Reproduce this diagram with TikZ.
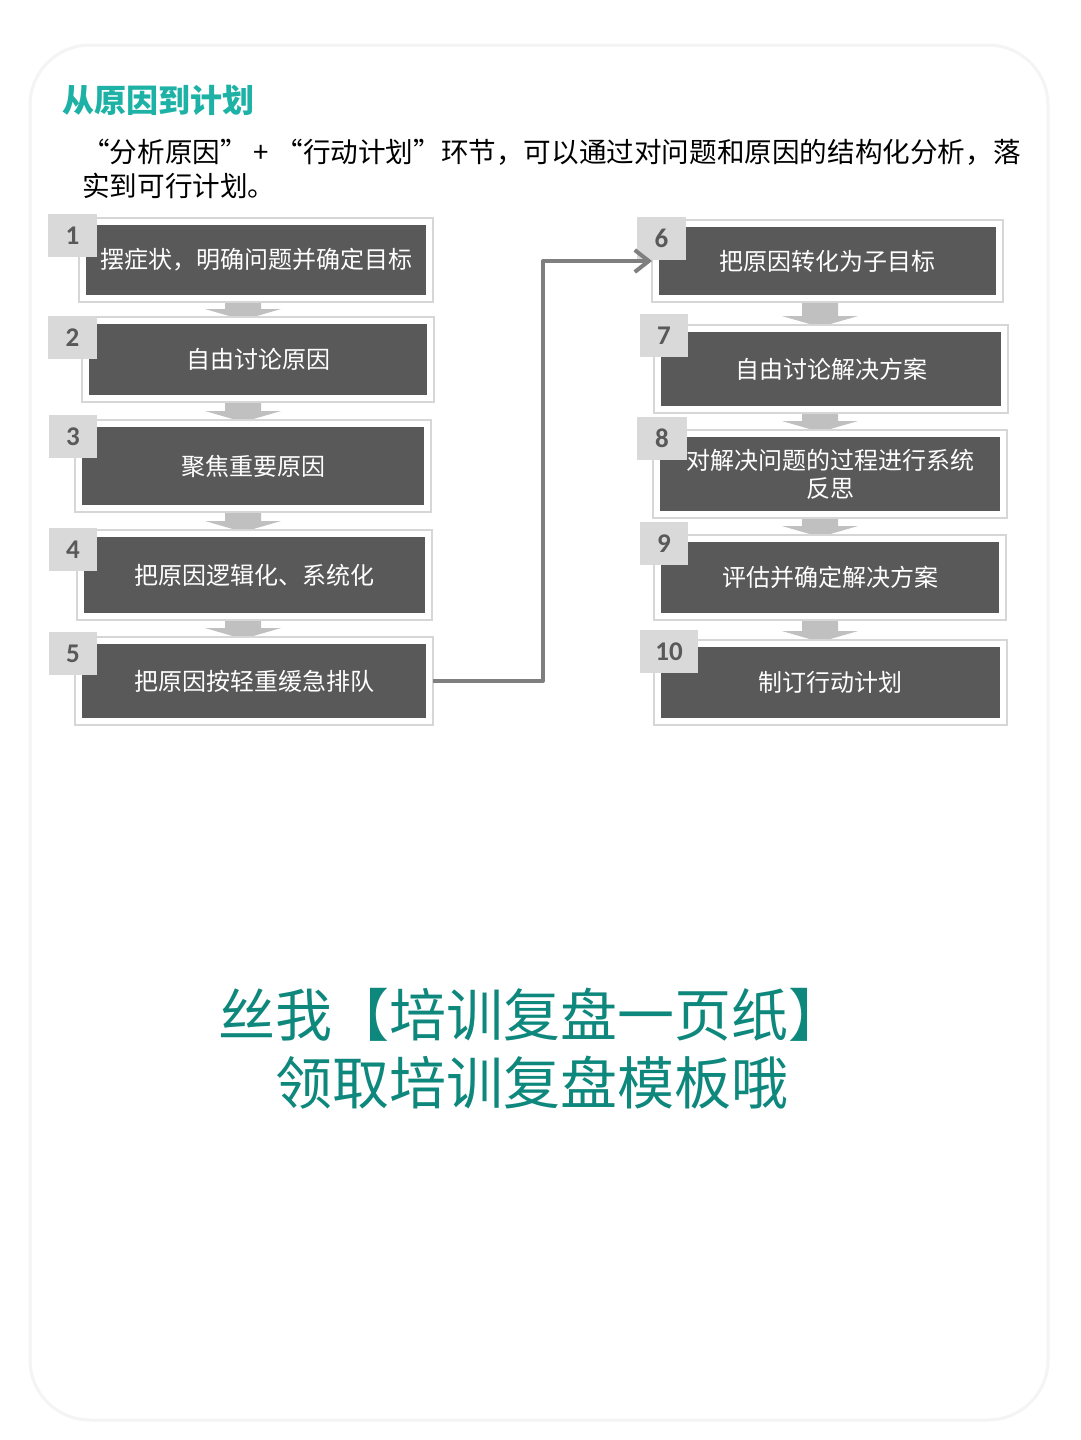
\documentclass[tikz,border=0pt]{standalone}
\usepackage{fontspec}
\setmainfont{Noto Sans CJK SC}
\newfontfamily\cjk{Noto Sans CJK SC}
\newfontfamily\numfont{Carlito}
\usetikzlibrary{arrows.meta}
\definecolor{titleteal}{HTML}{1DB2A5}
\definecolor{bottomteal}{HTML}{0E887C}
\definecolor{darkfill}{HTML}{595959}
\definecolor{framegray}{HTML}{D6D6D6}
\definecolor{tabgray}{HTML}{D9D9D9}
\definecolor{numgray}{HTML}{595959}
\definecolor{conngray}{HTML}{7F7F7F}
\definecolor{blockgray}{HTML}{C0C0C0}
\definecolor{cardedge}{HTML}{F4F4F4}
\begin{document}
\begin{tikzpicture}[x=1pt,y=-1pt,
  frame/.style={draw=framegray, line width=2.5pt, fill=white, inner sep=0pt, outer sep=0pt},
  darkbox/.style={fill=darkfill, text=white, inner sep=0pt, outer sep=0pt, align=center,
    font=\cjk\fontsize{24}{28}\selectfont},
  tab/.style={fill=tabgray, text=numgray, inner sep=0pt, outer sep=0pt, anchor=north west,
    minimum height=43pt, font=\numfont\bfseries\fontsize{27}{27}\selectfont},
  conn/.style={draw=conngray, line width=4pt, line join=round,
    -{Straight Barb[length=14pt,width=22pt]}},
  blockarrow/.style={fill=blockgray},
  title/.style={text=titleteal, font=\cjk\bfseries\fontsize{32}{36}\selectfont, inner sep=0pt, anchor=west},
  para/.style={text=black, font=\cjk\fontsize{27.6}{34}\selectfont, inner sep=0pt, align=left, anchor=north west},
  bottom/.style={text=bottomteal, font=\cjk\fontsize{57}{68}\selectfont, inner sep=0pt, align=center}
]
% page and card
\fill[white] (0,0) rectangle (1080,1440);
\useasboundingbox (0,0) rectangle (1080,1440);
\draw[cardedge, line width=3pt, rounded corners=60pt] (30,45) rectangle (1048,1420);

% title and paragraph
\node[title] (ttl) at (62,100) {从原因到计划};
\node[para] (par) at (82,139) {“分析原因” + “行动计划”环节，可以通过对问题和原因的结构化分析，落\\实到可行计划。};

% block arrows between steps
\foreach \x/\y/\z in {243/302/320, 243/402/422, 243/512/532, 243/620/639,
                      820/302/327, 820/413/432, 820/518/537, 820/620/642}
  \fill[blockarrow] ({\x-18},\y) -- ({\x+18},\y) -- ({\x+18},{\z-11}) -- ({\x+38},{\z-11})
     -- (\x,\z) -- ({\x-38},{\z-11}) -- ({\x-18},{\z-11}) -- cycle;

% step boxes
\foreach \n/\a/\b/\c/\d/\tx/\ty/\tw/\t in {
  1/79/218/433/302/48/214/49/{摆症状，明确问题并确定目标},
  2/82/317/434/402/48/316/49/{自由讨论原因},
  3/75/420/431/512/49/415/48/{聚焦重要原因},
  4/77/530/432/620/49/528/48/{把原因逻辑化、系统化},
  5/75/637/433/725/49/632/48/{把原因按轻重缓急排队},
  6/652/220/1003/302/637/217/49/{把原因转化为子目标},
  7/654/325/1008/413/640/314/48/{自由讨论解决方案},
  8/653/430/1007/518/637/417/50/{对解决问题的过程进行系统\\反思},
  9/654/535/1006/620/640/522/48/{评估并确定解决方案},
  10/654/640/1007/725/640/630/58/{制订行动计划}}
{
  \node[frame, minimum width={(\c-\a)*1pt}, minimum height={(\d-\b)*1pt}] (b\n) at ({(\a+\c)/2},{(\b+\d)/2}) {};
  \node[darkbox, minimum width={(\c-\a-14)*1pt}, minimum height={(\d-\b-14)*1pt}] (d\n) at (b\n.center) {\t};
  \node[tab, minimum width={\tw*1pt}] (t\n) at (\tx,\ty) {\n};
}

% connector from step 5 to step 6
\coordinate (turn) at (543,0);
\draw[conn] (b5.east) -- (b5.east -| turn) |- (b6.west);

% bottom text
\node[bottom] (cta) at (532,1049) {丝我【培训复盘一页纸】\\领取培训复盘模板哦};
\end{tikzpicture}
\end{document}
